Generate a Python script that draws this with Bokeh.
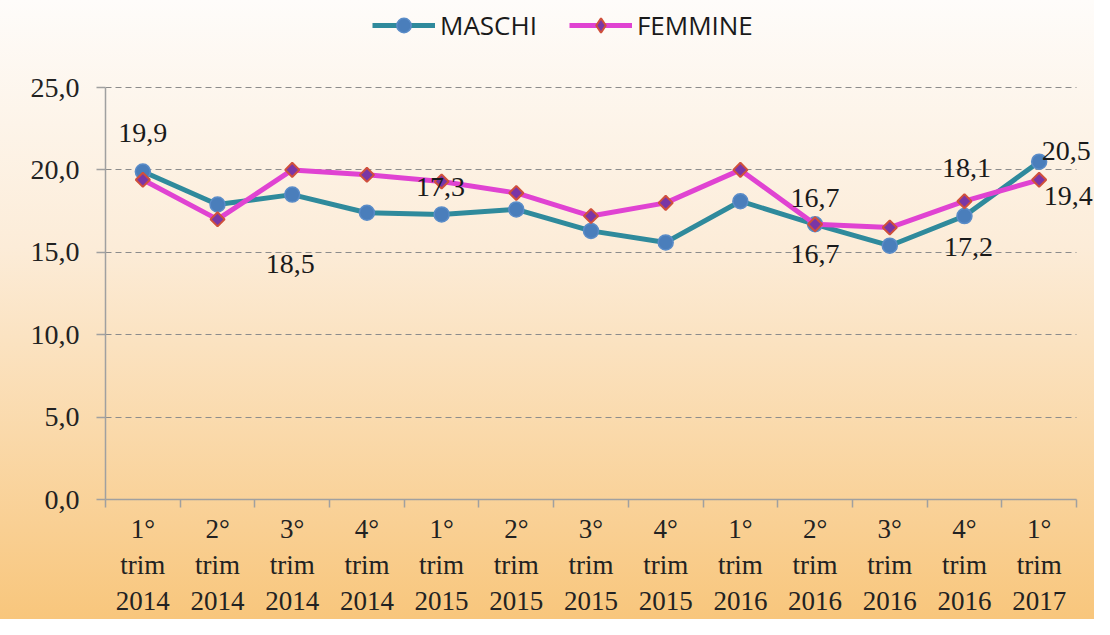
import numpy as np
from bokeh.plotting import figure
from bokeh.models import (Range1d, FixedTicker, Legend, LegendItem, ColumnDataSource, LabelSet)
from bokeh.embed import file_html
from bokeh.resources import INLINE

# ---- data ----
quarters = ["1°", "2°", "3°", "4°", "1°", "2°", "3°", "4°", "1°", "2°", "3°", "4°", "1°"]
years = ["2014", "2014", "2014", "2014", "2015", "2015", "2015", "2015",
         "2016", "2016", "2016", "2016", "2017"]
maschi = [19.9, 17.9, 18.5, 17.4, 17.3, 17.6, 16.3, 15.6, 18.1, 16.7, 15.4, 17.2, 20.5]
femmine = [19.4, 17.0, 20.0, 19.7, 19.3, 18.6, 17.2, 18.0, 20.0, 16.7, 16.5, 18.1, 19.4]
y_ticks = [0, 5, 10, 15, 20, 25]

# data labels shown on the chart: (series, index)
label_series = ["M", "M", "M", "F", "M", "F", "M", "M", "F"]
label_index = [0, 2, 4, 9, 9, 11, 11, 12, 12]
# label offsets in pixels (style; positive dy = downwards)
label_dx = [0, -2, -1, 0, 0, 2, 4, 27, 29]
label_dy = [-39, 69, -27, -26, 30, -33, 31, -11, 16]

n = len(quarters)
xs = np.arange(n) + 0.5
tick_labels = [f"{q}\ntrim\n{y}" for q, y in zip(quarters, years)]

SERIF = "'Liberation Serif', serif"

# layout geometry (pixels)
W, H = 1094, 619
FL, FR, FT, FB = 105, 1076, 2, 499       # frame left/right/top/bottom
Y_TOP_VAL = 25                            # value drawn at pixel 87
Y_TOP_PX = 87
y_end = Y_TOP_VAL * (FB - FT) / (FB - Y_TOP_PX)
x_end = n + (W - FR) / ((FR - FL) / n)

p = figure(width=W, height=H, output_backend="svg", toolbar_location=None,
           x_range=Range1d(0, x_end), y_range=Range1d(0, y_end),
           min_border_left=FL, min_border_right=0, min_border_top=FT,
           min_border_bottom=H - FB)
p.styles = {"background": "linear-gradient(to bottom, #fefcfa 0%, #fcecd8 40%, #f8c67c 100%)"}
p.background_fill_alpha = 0
p.border_fill_alpha = 0
p.outline_line_color = None

# axes
p.xaxis.ticker = FixedTicker(ticks=list(xs), minor_ticks=list(range(n + 1)))
p.xaxis.bounds = (0, n)
p.xaxis.major_label_overrides = {float(x): t for x, t in zip(xs, tick_labels)}
p.xaxis.major_tick_out = 0
p.xaxis.major_tick_in = 0
p.xaxis.minor_tick_out = 8
p.xaxis.minor_tick_in = 0
p.xaxis.minor_tick_line_color = "#a0a0a0"
p.xaxis.minor_tick_line_width = 1.5
p.xaxis.axis_line_color = "#a0a0a0"
p.xaxis.axis_line_width = 1.5
p.xaxis.major_label_standoff = 6
p.xaxis.major_label_text_font = SERIF
p.xaxis.major_label_text_font_size = "27px"
p.xaxis.major_label_text_color = "#222222"

p.yaxis.ticker = FixedTicker(ticks=y_ticks, minor_ticks=[])
p.yaxis.bounds = (0, 25)
p.yaxis.major_label_overrides = {t: f"{t:.1f}".replace(".", ",") for t in y_ticks}
p.yaxis.major_tick_out = 9
p.yaxis.major_tick_in = 0
p.yaxis.major_tick_line_color = "#a0a0a0"
p.yaxis.major_tick_line_width = 1.5
p.yaxis.axis_line_color = "#a0a0a0"
p.yaxis.axis_line_width = 1.5
p.yaxis.major_label_standoff = 17
p.yaxis.major_label_text_font = SERIF
p.yaxis.major_label_text_font_size = "28px"
p.yaxis.major_label_text_color = "#222222"

p.xgrid.grid_line_color = None
p.ygrid.grid_line_color = "#8c8c8c"
p.ygrid.grid_line_dash = "6 4"
p.ygrid.grid_line_width = 1.2
p.ygrid.cross_bounds = (0, n)

src = ColumnDataSource(dict(x=xs, m=maschi, f=femmine))

lm = p.line("x", "m", source=src, line_color="#2f8a9c", line_width=5)
sm = p.scatter("x", "m", source=src, marker="circle", size=15,
               fill_color="#4a7ebb", line_color="#5a8cc8", line_width=1.5)
lf = p.line("x", "f", source=src, line_color="#e043d2", line_width=5)
sf = p.scatter("x", "f", source=src, marker="square", angle=np.pi / 4, size=10,
               fill_color="#7a36a6", line_color="#d0503c", line_width=2)
# legend-only diamond (legend glyphs ignore the marker angle)
sf_leg = p.scatter("x", "f", source=src, marker="diamond", size=16,
                   fill_color="#7a36a6", line_color="#d0503c", line_width=2, visible=False)

# data labels
lab_x, lab_y, lab_t = [], [], []
for s, i in zip(label_series, label_index):
    v = maschi[i] if s == "M" else femmine[i]
    lab_x.append(xs[i])
    lab_y.append(v)
    lab_t.append(f"{v:.1f}".replace(".", ","))
lsrc = ColumnDataSource(dict(x=lab_x, y=lab_y, t=lab_t, dx=label_dx,
                             dy=[-d for d in label_dy]))
labels = LabelSet(x="x", y="y", text="t", source=lsrc, x_offset="dx", y_offset="dy",
                  text_font=SERIF, text_font_size="28px", text_color="#1a1a1a",
                  text_align="center", text_baseline="middle")
p.add_layout(labels)

legend = Legend(items=[LegendItem(label="MASCHI", renderers=[lm, sm]),
                       LegendItem(label="FEMMINE", renderers=[lf, sf_leg])],
                orientation="horizontal", location=(267, 456),
                glyph_width=63, glyph_height=36, label_standoff=5, spacing=32,
                padding=0, margin=0, border_line_color=None, background_fill_alpha=0,
                label_text_font="Open Sans", label_text_font_size="26px",
                label_text_color="#1a1a1a")
p.add_layout(legend, "center")

open("out.html", "w").write(file_html(p, INLINE))
